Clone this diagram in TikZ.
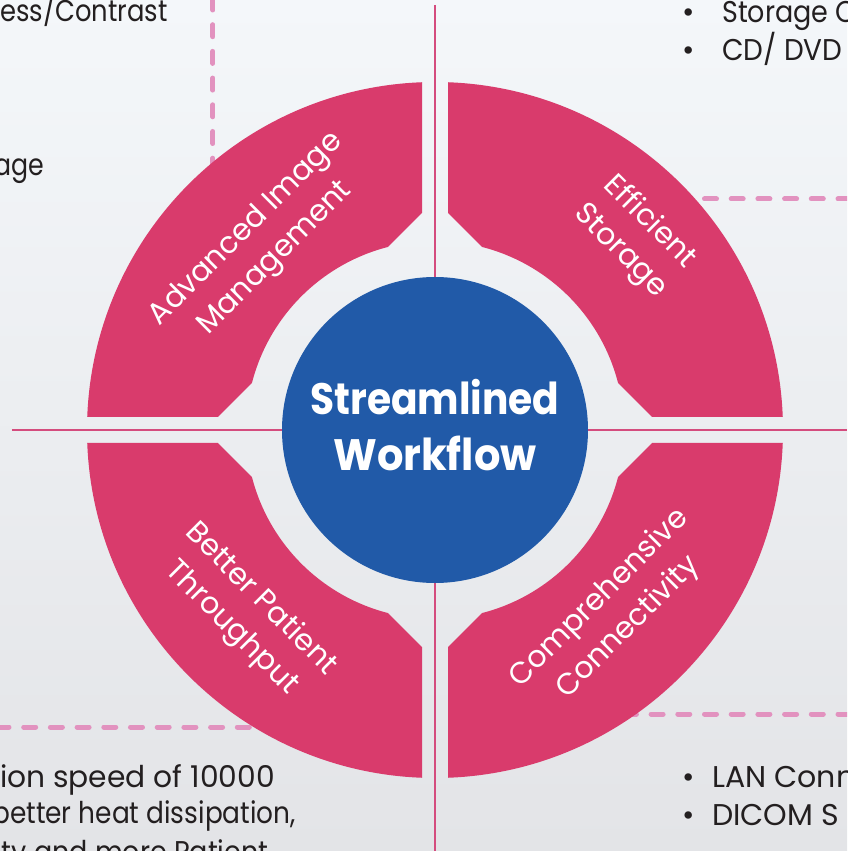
\documentclass[tikz,border=0pt]{standalone}
\usepackage{fontspec}
\usepackage{graphicx}
\setmainfont{Poppins}
\definecolor{quadpink}{HTML}{D93B6C}
\definecolor{ctrblue}{HTML}{215AA8}
\definecolor{dashpink}{HTML}{E292BF}
\definecolor{axispink}{HTML}{D44C7E}
\definecolor{bgtop}{RGB}{244,247,250}
\definecolor{bgbot}{RGB}{227,228,231}
\definecolor{bodytext}{HTML}{231F20}
\begin{document}
\begin{tikzpicture}[x=1pt,y=1pt,
  quad/.style={fill=quadpink},
  pinkdash/.style={draw=dashpink,line width=5pt,line cap=round,dash pattern=on 12pt off 14.7pt},
  axisline/.style={draw=axispink,line width=2pt},
  qlabel/.style={text=white,align=center,inner sep=0pt,font=\fontsize{30}{41}\selectfont},
  ctrlabel/.style={text=white,inner sep=0pt,anchor=base,font=\fontsize{44}{55}\selectfont\bfseries},
  body/.style={text=bodytext,inner sep=0pt,anchor=base west,font=\fontsize{30}{36}\selectfont}]
\useasboundingbox (-435,-421) rectangle (412,430);
\clip (-435,-421) rectangle (412,430);
\shade[top color=bgtop,bottom color=bgbot] (-435,-421) rectangle (412,430);
% dashed guide lines
\coordinate (d1a) at (-222,432); \coordinate (d1b) at (-222,262);
\coordinate (d2a) at (255,231); \coordinate (d2b) at (415,231);
\coordinate (d3a) at (-438,-297); \coordinate (d3b) at (-175,-297);
\coordinate (d4a) at (195,-284); \coordinate (d4b) at (415,-284);
\draw[pinkdash] (d1a) -- (d1b);
\draw[pinkdash] (d2b) -- (d2a);
\draw[pinkdash] (d3a) -- (d3b);
\draw[pinkdash] (d4b) -- (d4a);
% axis lines
\coordinate (hl) at (-423,0); \coordinate (hr) at (412,0);
\coordinate (vt) at (0,425); \coordinate (vb) at (0,-421);
\draw[axisline] (hl) -- (hr);
\draw[axisline] (vt) -- (vb);
% quadrants
\foreach \sx/\sy in {1/1,-1/1,1/-1,-1/-1}{
  \begin{scope}[xscale=\sx,yscale=\sy]
  \fill[quad] (-347.76,13) -- (-217,13) -- (-183.07,47) arc[start angle=165.6,end angle=104.4,radius=189]
     -- (-13,217) -- (-13,347.76) arc[start angle=92.14,end angle=177.86,radius=348] -- cycle;
  \end{scope}
}
% centre
\node[circle,fill=ctrblue,minimum size=306pt,inner sep=0pt] (ctr) at (0,0) {};
\node[ctrlabel] (ctr1) at (0,15) {\scalebox{0.89}[1]{Streamlined}};
\node[ctrlabel] (ctr2) at (0,-40) {\scalebox{0.945}[1]{Workflow}};
% quadrant labels
\node[qlabel,rotate=45] (lab1) at (-174,186) {Advanced Image\\Management};
\node[qlabel,rotate=-45] (lab2) at (200,193) {Efficient\\Storage};
\node[qlabel,rotate=-45] (lab3) at (-189,-184) {Better Patient\\Throughput};
\node[qlabel,rotate=45] (lab4) at (179,-183) {Comprehensive\\Connectivity};
% body texts
\node[body] (t1) at (-435,408) {\scalebox{0.86}[1]{ess/Contrast}};
\node[body] (t2) at (-441,254) {\scalebox{0.84}[1]{age}};
\node[body] (b1) at (247,407) {\textbullet};
\node[body] (t3) at (287,407) {\scalebox{0.9}[1]{Storage C}};
\node[body] (b2) at (247,369) {\textbullet};
\node[body] (t4) at (287,369) {\scalebox{0.93}[1]{CD/ DVD}};
\node[body] (t5) at (-435,-357) {\scalebox{0.99}[1]{ion speed of 10000}};
\node[body] (t6) at (-443,-393) {\scalebox{0.88}[1]{better heat dissipation,}};
\node[body] (t7) at (-440,-432) {\scalebox{0.9}[1]{ity and more Patient}};
\node[body] (b3) at (247,-357) {\textbullet};
\node[body] (t8) at (277,-357) {LAN Conn};
\node[body] (b4) at (247,-395) {\textbullet};
\node[body] (t9) at (277,-395) {DICOM S};
\end{tikzpicture}
\end{document}
